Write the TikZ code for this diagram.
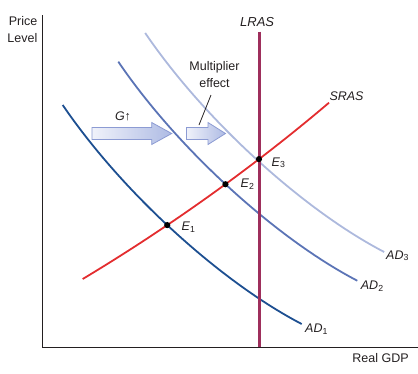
\documentclass[tikz,border=0pt]{standalone}
\usepackage{fontspec}
\setmainfont{Liberation Sans}
\usetikzlibrary{intersections}
\definecolor{adone}{HTML}{1D4F91}
\definecolor{adtwo}{HTML}{5B74B6}
\definecolor{adthree}{HTML}{ADB9DD}
\definecolor{srascol}{HTML}{E32D2F}
\definecolor{lrascol}{HTML}{9E2F5C}
\definecolor{txt}{HTML}{231F20}
\definecolor{arrowedge}{HTML}{8C9BD3}
\definecolor{arrowleft}{HTML}{F0F2FA}
\definecolor{arrowright}{HTML}{AEBBE4}
\begin{document}
\begin{tikzpicture}[x=1pt,y=-1pt,
  font=\fontsize{12.5}{17}\selectfont,
  axisline/.style={draw=txt, line width=1pt},
  curve/.style={line width=1.8pt},
  dot/.style={circle, fill=black, inner sep=0pt, minimum size=6.2pt},
  lbl/.style={text=txt, inner sep=0pt},
  bigarrow/.style={draw=arrowedge, line width=0.8pt, left color=arrowleft, right color=arrowright}]
\useasboundingbox (0,0) rectangle (418,373);
% axes
\coordinate (yt) at (42,15);
\coordinate (org) at (42,347);
\coordinate (xe) at (418,347);
\draw[axisline] (yt) -- (org) -- (xe);
\node[lbl, anchor=east, align=right] (pricelbl) at (37.5,29.5) {Price\\Level};
\node[lbl] (gdplbl) at (380.5,358) {Real GDP};
% AD curves
\draw[curve, adone, name path=adone] (62.7,105) .. controls (122.7,193.2) and (221.7,282.4) .. (301.7,324);
\draw[curve, adtwo, name path=adtwo] (118.3,61.7) .. controls (178.3,149.9) and (277.3,239.1) .. (357.3,280.7);
\draw[curve, adthree, name path=adthree] (145.2,33) .. controls (205.2,121.2) and (304.2,210.4) .. (384.2,252);
% SRAS
\draw[curve, srascol, name path=sras] (82.7,279) .. controls (162.7,231) and (249,170.7) .. (329,102.7);
% LRAS
\coordinate (lrasT) at (259,31.5);
\coordinate (lrasB) at (259,347);
\draw[lrascol, line width=3pt, name path=lras] (lrasT) -- (lrasB);
% labels
\node[lbl, anchor=base west, font=\fontsize{13}{15}\selectfont\itshape] (lraslbl) at (240,26) {LRAS};
\node[lbl, anchor=base west, font=\fontsize{12.5}{15}\selectfont\itshape] (sraslbl) at (329.3,100) {SRAS};
\node[lbl, anchor=base west] (ad1lbl) at (305,332.7) {\textit{AD}\textsubscript{1}};
\node[lbl, anchor=base west] (ad2lbl) at (360.7,289.3) {\textit{AD}\textsubscript{2}};
\node[lbl, anchor=base west] (ad3lbl) at (386,259) {\textit{AD}\textsubscript{3}};
% equilibrium points
\path[name intersections={of=sras and adone, by=i1}];
\path[name intersections={of=sras and adtwo, by=i2}];
\path[name intersections={of=sras and lras, by=i3}];
\node[dot] (E1) at (i1) {};
\node[dot] (E2) at (i2) {};
\node[dot] (E3) at (i3) {};
\node[lbl, anchor=base west] (e1lbl) at (181.5,230.5) {\textit{E}\textsubscript{1}};
\node[lbl, anchor=base west] (e2lbl) at (240.5,187.5) {\textit{E}\textsubscript{2}};
\node[lbl, anchor=base west] (e3lbl) at (271.5,166) {\textit{E}\textsubscript{3}};
% shift arrows
\path[bigarrow] (92,127.5) -- (151.7,127.5) -- (151.7,122.5) -- (171.7,133.5) -- (151.7,144.5) -- (151.7,139.5) -- (92,139.5) -- cycle;
\path[bigarrow] (186.5,127.5) -- (208,127.5) -- (208,122.5) -- (225.5,133.5) -- (208,144.5) -- (208,139.5) -- (186.5,139.5) -- cycle;
\node[lbl] (glbl) at (123,116) {\textit{G}↑};
\node[lbl, align=center] (multlbl) at (214.5,74.5) {Multiplier\\effect};
\coordinate (lead1) at (211,95);
\coordinate (lead2) at (199,125);
\draw[txt, line width=0.8pt] (lead1) -- (lead2);
\end{tikzpicture}
\end{document}
